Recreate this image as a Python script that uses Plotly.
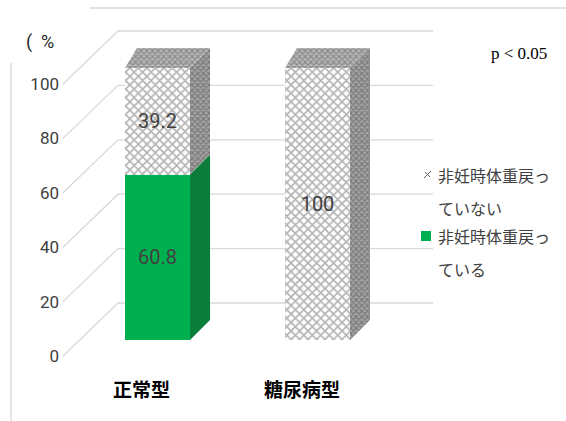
import plotly.graph_objects as go

# ---------------- data ----------------
categories = ["正常型", "糖尿病型"]
series_names = ["非妊時体重戻っている", "非妊時体重戻っていない"]
returned = [60.8, 0]        # 非妊時体重戻っている
not_returned = [39.2, 100]  # 非妊時体重戻っていない
tick_values = [0, 20, 40, 60, 80, 100]
tick_labels = ["0", "20", "40", "60", "80", "100"]
unit_label = "(  %"
p_label = "p < 0.05"

# ---------------- geometry (pixel helpers) ----------------
W, H = 566, 421
L = 62
X0, XS = 157.5, 160.0   # px of category 0 front center, px per category
Y0, YS = 340.0, 2.72    # px of value 0 on bar front face, px per unit


def ux(px):
    return (px - X0) / XS


def uy(py):
    return (Y0 - py) / YS


def paper_x(px):
    return (px - L) / (W - L)


def paper_y(py):
    return 1 - py / H


xr = [ux(L), ux(W)]
yr = [uy(H), uy(0)]
bw = 65 / XS
hw = bw / 2
DXL, DXR, DY = 12 / XS, 20 / XS, 20 / YS
FLOOR_FRONT = uy(356)   # value offset of front floor edge
FLOOR_BACK = uy(303)    # value offset of back wall
WALL_X0, WALL_X1, FRONT_X = ux(118), ux(433), ux(63)

grid_col = "#d9d9d9"
text_col = "#404040"

fig = go.Figure()

xs = list(range(len(categories)))

front_styles = [
    dict(color="#00b050", line=dict(width=0)),
    dict(color="white", line=dict(width=0),
         pattern=dict(shape="x", fgcolor="#666666", bgcolor="white", size=6, solidity=0.47)),
]
side_styles = [
    dict(fillcolor="#0a7d3b"),
    dict(fillcolor="#999999", fillpattern=dict(shape="x", fgcolor="#4e4e4e", bgcolor="#a4a4a4", size=4, solidity=0.5)),
]
top_styles = [
    dict(fillcolor="#3cc476"),
    dict(fillcolor="#a8a8a8", fillpattern=dict(shape="x", fgcolor="#5a5a5a", bgcolor="#b8b8b8", size=4, solidity=0.5)),
]

stack = [returned, not_returned]
for k, vals in enumerate(stack):
    fig.add_trace(go.Bar(
        x=xs, y=vals, width=bw, name=series_names[k],
        marker=front_styles[k],
        text=[f"{v:g}" if v > 0 else "" for v in vals],
        textposition="inside", insidetextanchor="middle", constraintext="none",
        insidetextfont=dict(family="Roboto", size=20, color="#404040"),
        hoverinfo="skip", showlegend=False,
    ))

# 3D side and top faces derived from the stacked values
for i in xs:
    base = 0
    top_k = None
    for k, vals in enumerate(stack):
        v = vals[i]
        if v <= 0:
            continue
        top = base + v
        fig.add_trace(go.Scatter(
            x=[i + hw, i + hw, i + hw + DXR, i + hw + DXR, i + hw],
            y=[base, top, top + DY, base + DY, base],
            mode="lines", fill="toself", line=dict(width=0),
            hoverinfo="skip", showlegend=False, **side_styles[k]))
        base = top
        top_k = k
    if top_k is not None:
        fig.add_trace(go.Scatter(
            x=[i - hw, i + hw, i + hw + DXR, i - hw + DXL, i - hw],
            y=[base, base, base + DY, base + DY, base],
            mode="lines", fill="toself", line=dict(width=0),
            hoverinfo="skip", showlegend=False, **top_styles[top_k]))

shapes = []
# side-wall diagonals and back-wall gridlines from the tick values
for v in tick_values:
    shapes.append(dict(type="path", xref="x", yref="y", layer="below",
                       path=f"M {FRONT_X},{v + FLOOR_FRONT} L {WALL_X0},{v + FLOOR_BACK} L {WALL_X1},{v + FLOOR_BACK}",
                       line=dict(color=grid_col, width=1.3)))
# frame remnants
shapes.append(dict(type="line", xref="paper", yref="paper", x0=paper_x(90), x1=paper_x(566),
                   y0=paper_y(8), y1=paper_y(8), line=dict(color=grid_col, width=1.3)))
shapes.append(dict(type="line", xref="paper", yref="paper", x0=paper_x(11), x1=paper_x(11),
                   y0=paper_y(63), y1=paper_y(421), line=dict(color=grid_col, width=1.3)))

# manual legend (top entry = upper stack segment)
legend_rows = [(series_names[1], 175), (series_names[0], 236)]
annotations = []
for name, py in legend_rows:
    annotations.append(dict(xref="paper", yref="paper", x=paper_x(436), y=paper_y(py),
                            text=name[:7], showarrow=False, xanchor="left", yanchor="middle",
                            font=dict(family="Noto Sans CJK JP", size=16, color=text_col)))
    annotations.append(dict(xref="paper", yref="paper", x=paper_x(436), y=paper_y(py + 33),
                            text=name[7:], showarrow=False, xanchor="left", yanchor="middle",
                            font=dict(family="Noto Sans CJK JP", size=16, color=text_col)))
shapes.append(dict(type="rect", xref="paper", yref="paper", x0=paper_x(421), x1=paper_x(431),
                   y0=paper_y(231), y1=paper_y(241), fillcolor="#00b050", line=dict(width=0)))
shapes.append(dict(type="line", xref="paper", yref="paper", x0=paper_x(424), x1=paper_x(431),
                   y0=paper_y(178), y1=paper_y(171), line=dict(color="#606060", width=1)))
shapes.append(dict(type="line", xref="paper", yref="paper", x0=paper_x(425), x1=paper_x(430),
                   y0=paper_y(172), y1=paper_y(177), line=dict(color="#606060", width=1)))

# category labels
for i, c in enumerate(categories):
    annotations.append(dict(xref="x", yref="y", x=i, y=uy(388), xshift=-16, text=c,
                            showarrow=False, xanchor="center", yanchor="middle",
                            font=dict(family="Noto Sans CJK JP", size=19, color="black", weight="bold")))

annotations.append(dict(xref="paper", yref="paper", x=paper_x(40), y=paper_y(42), text=unit_label,
                        showarrow=False, xanchor="center", yanchor="middle",
                        font=dict(family="Roboto", size=18, color="#262626")))
annotations.append(dict(xref="paper", yref="paper", x=paper_x(519), y=paper_y(54), text=p_label,
                        showarrow=False, xanchor="center", yanchor="middle",
                        font=dict(family="Liberation Serif", size=17, color="black")))

fig.update_layout(
    width=W, height=H, autosize=False,
    margin=dict(l=L, r=0, t=0, b=0, pad=0),
    paper_bgcolor="white", plot_bgcolor="white",
    barmode="stack", showlegend=False, hovermode=False,
    xaxis=dict(range=xr, visible=False, fixedrange=True),
    yaxis=dict(range=yr, showgrid=False, zeroline=False, showline=False, ticks="",
               tickvals=[v + FLOOR_FRONT for v in tick_values], ticktext=tick_labels,
               tickfont=dict(family="Roboto", size=17, color=text_col),
               ticklabelstandoff=2, fixedrange=True),
    shapes=shapes, annotations=annotations,
)

fig.write_html("out.html")
